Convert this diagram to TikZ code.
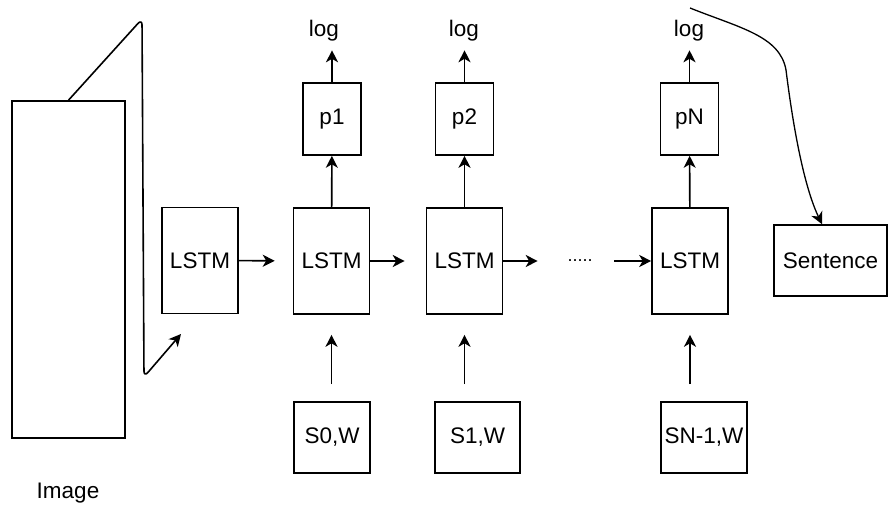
\documentclass[tikz,border=0pt]{standalone}
\usepackage{fontspec}
\setmainfont{Liberation Sans}
\usetikzlibrary{arrows.meta}

\begin{document}
\begin{tikzpicture}[x=1pt, y=-1pt, line width=1.6pt,
  font=\fontsize{22.5}{26}\selectfont,
  cell/.style={draw, inner sep=0, minimum width=76pt, minimum height=106pt},
  prob/.style={draw, inner sep=0, minimum width=58pt, minimum height=72pt},
  word/.style={draw, inner sep=0, minimum height=71pt},
  arr/.style={-{Stealth[length=12pt, width=12pt, inset=3.5pt]}}]
\useasboundingbox (0,0) rectangle (888,508);
\node[draw, inner sep=0, minimum width=113pt, minimum height=337pt] (img) at (68.5,269.5) {};
\node[inner sep=0] (imgl) at (68,493) {Image};
\node[cell] (l0) at (200,260.5) {LSTM};
\node[cell] (l1) at (331.5,261) {LSTM};
\node[cell] (l2) at (464.5,261) {LSTM};
\node[cell] (l3) at (690,261) {LSTM};
\node[inner sep=0, font=\fontsize{18}{20}\selectfont] (dots) at (580,261) {.....};
\node[prob] (p1) at (332,119) {p1};
\node[prob] (p2) at (464.5,119) {p2};
\node[prob] (pN) at (689.5,119) {pN};
\node[inner sep=0] (g1) at (324,31) {log};
\node[inner sep=0] (g2) at (464,31) {log};
\node[inner sep=0] (gN) at (689,31) {log};
\node[word, minimum width=76pt] (s0) at (332,437.5) {S0,W};
\node[word, minimum width=85pt] (s1) at (477.5,437.5) {S1,W};
\node[word, minimum width=86pt] (sN) at (704,437.5) {SN-1,W};
\node[word, minimum width=113pt] (sen) at (830.5,260.5) {Sentence};
\coordinate (c1) at (142,19);
\coordinate (c2) at (144,377);
\coordinate (c3) at (181,334);
\coordinate (c4) at (690,8);
\draw[arr, rounded corners=6pt] (img.north) -- (c1) -- (c2) -- (c3);
\draw[arr, shorten >=18pt] (l0) -- (l1);
\draw[arr, shorten >=21pt] (l1) -- (l2);
\draw[arr, shorten >=29pt] (l2) -- (dots);
\draw[arr, shorten <=21pt] (dots) -- (l3);
\foreach \c/\p/\g in {l1/p1/g1, l2/p2/g2, l3/pN/gN} {
  \draw[arr] (\c) -- (\p);
  \draw[arr, shorten >=8pt] (\p) -- (\p |- \g.south);
}
\foreach \s/\c in {s0/l1, s1/l2, sN/l3}
  \draw[arr, shorten <=17pt, shorten >=20pt] (\s.north -| \c) -- (\c);
\draw[arr, line width=1.3pt] (c4) .. controls (740,28) and (780,36) .. (786,70)
  .. controls (796,150) and (808,195) .. ([xshift=-8.5pt]sen.north);
\end{tikzpicture}
\end{document}
